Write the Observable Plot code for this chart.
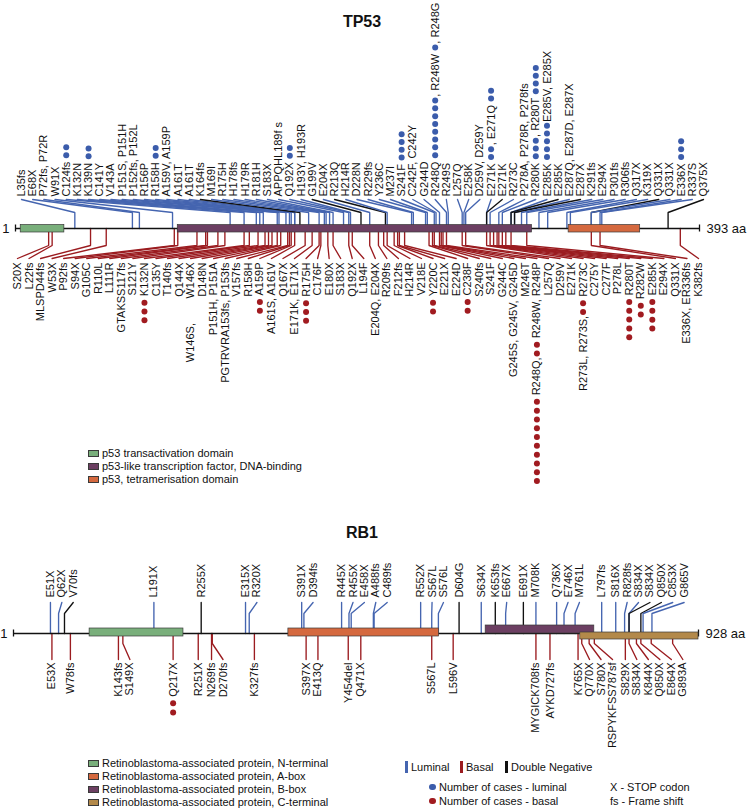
<!DOCTYPE html>
<html><head><meta charset="utf-8">
<script src="https://cdn.jsdelivr.net/npm/d3@7"></script>
<script src="https://cdn.jsdelivr.net/npm/@observablehq/plot@0.6"></script>
<style>
body{margin:0;background:#fff;font-family:'Liberation Sans',Arial,Helvetica,sans-serif;color:#111}
#wrap{position:relative;width:747px;height:809px;overflow:hidden;background:#fff}
.abs{position:absolute;white-space:nowrap}
.title{font-weight:bold;font-size:16px;line-height:16px;transform:translateX(-50%)}
.leg{font-size:11px;line-height:13px}
svg{overflow:visible}
</style></head><body><div id="wrap"></div>
<script>
// ---------------- DATA ----------------
const tp53Length = 393;
const tp53DomainNames = ["p53 transactivation domain","p53-like transcription factor, DNA-binding","p53, tetramerisation domain"];
const tp53DomainStart = [4, 94, 318];
const tp53DomainEnd = [29, 297, 359];

// "text|count|text|count..." ; counts = number of cases (dots)
const tp53TopLabels = [
"L35fs","E68X","P72fs, P72R","W91X","C124fs|2","K132N","K139N|2","C141Y","V143A","P151S, P151H",
"P152fs, P152L","R156P","R158H|2","A159V, A159P","A161T","A161T","K164fs","M169I","R175H","H178fs",
"H179R","R181H","S183X","APPQHL189f s","Q192X|2","H193Y, H193R","G199V","E204X","R213Q","H214R",
"D228N","R229fs","Y236C","M237I","S241F|4","C242F, C242Y","G244D","R248Q|8|, R248W|1|, R248G","R249S","L257Q",
"E258K","D259V, D259Y","E271K|2|, E271Q|2","E271K","R273C","P278A, P278R, P278fs","R280K|3|, R280T|4","E285K|5|E285V, E285X","E285K","E287Q, E287D, E287X",
"E287X","K291fs","E294X","P301fs","R306fs","Q317X","K319X","Q331X","Q331X","E336X|3",
"R337S","Q375X"];
const tp53TopGroup = [
"L","L","L","L","L","L","L","L","L","L","L","L","L","L","L","L","D","L","L","L",
"L","L","L","L","L","L","D","L","D","L","L","L","L","L","L","L","L","L","L","L",
"L","L","L","D","L","L","L","L","D","L","D","L","L","L","L","L","L","D","L","L",
"L","D"];
const tp53BottomLabels = [
"S20X","L22fs","MLSPD44fs","W53X","P92fs","S94X","G105C","R110L","L111R","GTAKSS117fs",
"S121Y","K132N|3","C135Y","T140fs","Q144X","W146S,\u00a0\u00a0\u00a0\u00a0\u00a0\u00a0\u00a0 W146X","D148N","P151H, P151A","PGTRVRA153fs, P153fs","V157fs",
"R158H","A159P|2","A161S, A161V","Q167X","E171K, E171X","R175H|3","C176F","E180X","S183X","Q192X",
"L194F","E204Q, E204X","R209fs","F212fs","H214R","V218E","Y220C|2","E221X","E224D","C238F|2",
"S240fs","S241F","G244C","G245S, G245V, G245D","M246T","R248W, R248P|2|R248Q,|10","L257Q","D259V","E271K","R273C|2|R273L, R273S,",
"C275Y","C277F","P278L","R280T|5","R282W|2","E285K|4","E294X","Q331X","E336X, ER336fs","K382fs"];

const rb1Length = 928;
const rb1DomainNames = ["Retinoblastoma-associated protein, N-terminal","Retinoblastoma-associated protein, A-box","Retinoblastoma-associated protein, B-box","Retinoblastoma-associated protein, C-terminal"];
const rb1DomainStart = [104, 373, 640, 768];
const rb1DomainEnd = [231, 577, 787, 928];
const rb1TopLabels = ["E51X","Q62X","V70fs","L191X","R255X","E315X","R320X","S391X","D394fs","R445X",
"R455X","E458X","A488fs","C489fs","R552X","S567L","S576L","D604G","S634X","K653fs",
"E667X","E691X","M708K","Q736X","E746X","M761L","L797fs","S816X","R828fs","S834X",
"S834X","Q850X","C853X","G865V"];
const rb1TopGroup = ["L","L","D","L","D","L","L","L","L","L",
"L","L","L","L","L","L","L","D","L","D",
"L","D","L","L","L","L","L","L","L","L",
"D","D","L","L"];
const rb1BottomLabels = ["E53X","W78fs","K143fs","S149X","Q217X|2","R251X","N269fs","D270fs","K327fs","S397X",
"E413Q","Y454del","Q471X","S567L","L596V","MYGICK708fs","AYKD727fs","K765X","Q770X","S780X",
"RSPYKFSS787sf","S829X","S834X","K844X","Q850X","E864X","G893A"];

const groupNames = ["Luminal","Basal","Double Negative"];
const dotLegend = ["Number of cases - luminal","Number of cases - basal"];
const abbrevLegend = ["X - STOP codon","fs - Frame shift"];

// ---------------- STYLE / LAYOUT ----------------
const W = 747;
const FONT = "'Liberation Sans', Arial, Helvetica, sans-serif";
const LS = 11;
const COL = {L: "#4565b0", B: "#9b1c20", D: "#111111"};
const DOTCOL = {L: "#3b5cab", B: "#a11b20"};
const TP53COLS = ["#79af7b", "#6c3f62", "#d5693f"];
const RB1COLS = ["#79af7b", "#d5693f", "#6c3f62", "#b3894a"];

const ctx = document.createElement("canvas").getContext("2d");
ctx.font = `${LS}px ${FONT}`;
const tw = s => ctx.measureText(s).width;

function layoutLabel(parts, step) {
  const texts = [], dots = [];
  let cur = 0, prevDot = false;
  parts.forEach((p, i) => {
    if (i % 2 === 0) {
      if (!p) return;
      const off = prevDot ? cur + 3.8 : cur;
      texts.push({t: p, off});
      cur = off + tw(p);
      prevDot = false;
    } else {
      const n = +p;
      for (let k = 0; k < n; k++) {
        const c = k === 0 ? cur + 6.5 : cur + step;
        dots.push(c); cur = c;
      }
      prevDot = n > 0;
    }
  });
  return {texts, dots};
}

function buildSide(labels, groups, slotPx, side, geo, xinv, pre) {
  const conn = [], texts = [], dots = [];
  labels.forEach((spec, i) => {
    const parts = spec.split("|");
    const aa = +parts[0].match(/\d+/)[0];
    const g = groups ? groups[i] : "B";
    const id = pre + i, c = COL[g];
    const sx = xinv(slotPx[i]);
    conn.push({id, x: sx, y: side * geo.lineEnd, c}, {id, x: aa, y: side * geo.elbow, c}, {id, x: aa, y: 0, c});
    const L = layoutLabel(parts, geo.dotStep);
    L.texts.forEach(t => texts.push({x: sx, y: side * (geo.textStart + t.off), t: t.t}));
    L.dots.forEach(d => dots.push({x: sx, y: side * (geo.textStart + d), c: DOTCOL[side < 0 ? "L" : "B"]}));
  });
  return {conn, texts, dots};
}

const evenSlots = (n, first, step) => d3.range(n).map(i => first + i * step);
function greedySlots(stemPx, gap) {
  const out = [];
  stemPx.forEach((p, i) => out.push(i ? Math.max(p, out[i - 1] + gap) : p));
  return out;
}

function genePlot(cfg) {
  const xs = d3.scaleLinear().domain([1, cfg.len]).range(cfg.range);
  const xinv = px => xs.invert(px);
  const stem = labels => labels.map(s => xs(+s.match(/\d+/)[0]));
  const topSlots = cfg.topSlots(stem(cfg.top));
  const botSlots = cfg.botSlots(stem(cfg.bottom));
  const T = buildSide(cfg.top, cfg.topGroup, topSlots, -1, cfg.geoTop, xinv, "t");
  const B = buildSide(cfg.bottom, null, botSlots, 1, cfg.geoBot, xinv, "b");
  const doms = cfg.domStart.map((s, i) => ({s, e: cfg.domEnd[i], c: cfg.domCols[i], y1: cfg.domY[i][0], y2: cfg.domY[i][1]}));
  return Plot.plot({
    width: W, height: cfg.height, margin: 0,
    x: {domain: [1, cfg.len], range: cfg.range, axis: null},
    y: {domain: cfg.ydomain, range: [0, cfg.height], axis: null},
    color: {type: "identity"},
    style: {fontFamily: FONT, background: "transparent", color: "#111", overflow: "visible"},
    marks: [
      Plot.line(T.conn.concat(B.conn), {x: "x", y: "y", z: "id", stroke: "c", strokeWidth: 1.35, strokeLinejoin: "miter"}),
      Plot.ruleY([0], {x1: 1, x2: cfg.len, stroke: "#111", strokeWidth: 1.4}),
      Plot.ruleX([1, cfg.len], {y1: -3.5, y2: 3.5, stroke: "#111", strokeWidth: 1.3}),
      Plot.rect(doms, {x1: "s", x2: "e", y1: "y1", y2: "y2", fill: "c", stroke: "#3a3a3a", strokeWidth: 0.7}),
      Plot.text(T.texts, {x: "x", y: "y", text: "t", rotate: -90, textAnchor: "start", fontSize: LS, fill: "#111"}),
      Plot.text(B.texts, {x: "x", y: "y", text: "t", rotate: -90, textAnchor: "end", fontSize: LS, fill: "#111"}),
      Plot.dot(T.dots.concat(B.dots), {x: "x", y: "y", r: 3, fill: "c", stroke: null}),
      Plot.text([{x: 1, t: "1"}], {x: "x", y: 0, text: "t", dx: -6, textAnchor: "end", fontSize: 13, fill: "#111"}),
      Plot.text([{x: cfg.len, t: cfg.len + " aa"}], {x: "x", y: 0, text: "t", dx: 7, textAnchor: "start", fontSize: 13, fill: "#111"})
    ]
  });
}

const wrap = document.getElementById("wrap");
function place(el, left, top) { el.style.position = "absolute"; el.style.left = left + "px"; el.style.top = top + "px"; wrap.appendChild(el); return el; }
function div(cls, html, left, top) { const d = document.createElement("div"); d.className = "abs " + cls; d.innerHTML = html; return place(d, left, top); }

// TP53
const p1 = genePlot({
  len: tp53Length, range: [15, 699], height: 500, ydomain: [-228, 272],
  top: tp53TopLabels, topGroup: tp53TopGroup, bottom: tp53BottomLabels,
  topSlots: s => evenSlots(s.length, 21, (703 - 21) / (s.length - 1)),
  botSlots: s => evenSlots(s.length, 17, (698 - 17) / (s.length - 1)),
  geoTop: {textStart: 32, elbow: 16, lineEnd: 29, dotStep: 7.8},
  geoBot: {textStart: 34, elbow: 17, lineEnd: 30, dotStep: 8.8},
  domStart: tp53DomainStart, domEnd: tp53DomainEnd, domCols: TP53COLS,
  domY: [[-3.5, 4], [-3.5, 4], [-3.5, 4]]
});
place(p1, 0, 0);

// RB1
const p2 = genePlot({
  len: rb1Length, range: [13, 698], height: 309, ydomain: [-133, 176],
  top: rb1TopLabels, topGroup: rb1TopGroup, bottom: rb1BottomLabels,
  topSlots: s => greedySlots(s, 11.4),
  botSlots: s => greedySlots(s, 11.5),
  geoTop: {textStart: 36, elbow: 20, lineEnd: 31, dotStep: 8.8},
  geoBot: {textStart: 29, elbow: 10, lineEnd: 26, dotStep: 9.2},
  domStart: rb1DomainStart, domEnd: rb1DomainEnd, domCols: RB1COLS,
  domY: [[-5, 3], [-5, 3], [-8, 0], [-1, 6]]
});
place(p2, 0, 500);

// titles
div("title", "TP53", 362, 13.5);
div("title", "RB1", 362, 524.5);

// domain legends
function swatch(col, left, top) {
  const s = document.createElement("div");
  s.style.cssText = `width:11px;height:7px;background:${col};border:0.7px solid #3a3a3a;box-sizing:border-box`;
  return place(s, left, top);
}
tp53DomainNames.forEach((n, i) => {
  const cy = 453 + i * 13;
  swatch(TP53COLS[i], 88, cy - 3.5);
  div("leg", n, 102, cy - 6.5);
});
rb1DomainNames.forEach((n, i) => {
  const cy = 763 + i * 13;
  swatch(RB1COLS[i], 88, cy - 3.5);
  div("leg", n, 102, cy - 6.5);
});

// group legend
const gx = [405, 460, 505];
groupNames.forEach((n, i) => {
  const b = document.createElement("div");
  b.style.cssText = `width:3px;height:12px;background:${COL[["L","B","D"][i]]}`;
  place(b, gx[i], 761);
  div("leg", n, gx[i] + 6, 760.5);
});
dotLegend.forEach((n, i) => {
  const cy = 787 + i * 14;
  const d = document.createElement("div");
  d.style.cssText = `width:6.5px;height:6.5px;border-radius:50%;background:${DOTCOL[i ? "B" : "L"]}`;
  place(d, 429, cy - 3.25);
  div("leg", n, 439, cy - 6.5);
});
abbrevLegend.forEach((n, i) => div("leg", n, 610, 787 + i * 14 - 6.5));
</script></body></html>
